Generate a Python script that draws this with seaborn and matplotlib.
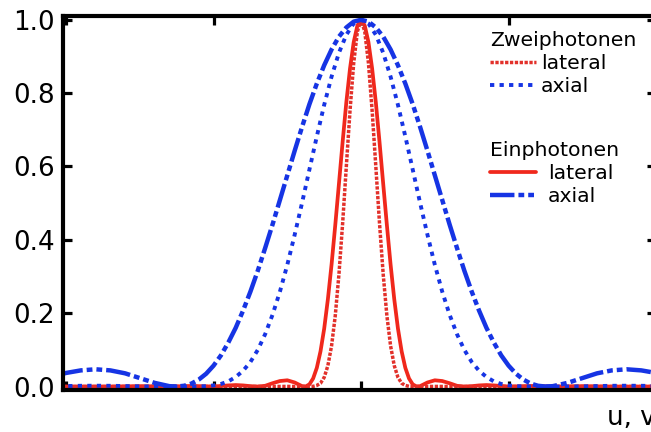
import matplotlib
matplotlib.use("Agg")
import matplotlib.pyplot as plt
from matplotlib.lines import Line2D
import pandas as pd
import seaborn as sns

# Lateral coordinate v and normalised intensities
lat_v = [-20.5, -17, -15, -13, -11.5, -10, -9, -8.5, -8, -7.5, -7, -6.5, -6, -5.5, -5, -4.5,
         -4, -3.75, -3.5, -3.25, -3, -2.75, -2.5, -2.25, -2, -1.75, -1.5, -1.25, -1, -0.75,
         -0.5, -0.25, 0, 0.25, 0.5, 0.75, 1, 1.25, 1.5, 1.75, 2, 2.25, 2.5, 2.75, 3, 3.25,
         3.5, 3.75, 4, 4.5, 5, 5.5, 6, 6.5, 7, 7.5, 8, 8.5, 9, 10, 11.5, 13, 15, 17, 20.5]
ein_lateral = [0.0, 0.0, 0.001, 0.0, 0.0015, 0.0, 0.003, 0.004, 0.003, 0.001, 0.0, 0.002,
               0.009, 0.015, 0.017, 0.011, 0.001, 0.0003, 0.006, 0.022, 0.051, 0.096, 0.158,
               0.238, 0.333, 0.440, 0.553, 0.667, 0.775, 0.867, 0.939, 0.984, 1.0,
               0.984, 0.939, 0.867, 0.775, 0.667, 0.553, 0.440, 0.333, 0.238, 0.158, 0.096,
               0.051, 0.022, 0.006, 0.0003, 0.001, 0.011, 0.017, 0.015, 0.009, 0.002, 0.0,
               0.001, 0.003, 0.004, 0.003, 0.0, 0.0015, 0.0, 0.001, 0.0, 0.0]
zwei_lateral = [0.0, 0.0, 0.0, 0.0, 0.0, 0.0, 0.0, 0.0, 0.0, 0.0, 0.0, 0.0,
                0.0001, 0.0002, 0.0003, 0.0001, 0.0, 0.0, 0.0, 0.0005, 0.003, 0.009, 0.025,
                0.057, 0.111, 0.193, 0.306, 0.445, 0.600, 0.752, 0.882, 0.968, 1.0,
                0.968, 0.882, 0.752, 0.600, 0.445, 0.306, 0.193, 0.111, 0.057, 0.025, 0.009,
                0.003, 0.0005, 0.0, 0.0, 0.0, 0.0001, 0.0003, 0.0002, 0.0001, 0.0, 0.0,
                0.0, 0.0, 0.0, 0.0, 0.0, 0.0, 0.0, 0.0, 0.0, 0.0]

# Axial coordinate u and normalised intensities
ax_u = [-20.5, -20, -19, -18, -17, -16, -15, -14, -13, -12.5, -12, -11.5, -11, -10.5, -10,
        -9.5, -9, -8.5, -8, -7.5, -7, -6.5, -6, -5.5, -5, -4.5, -4, -3.5, -3, -2.5, -2,
        -1.5, -1, -0.5, 0, 0.5, 1, 1.5, 2, 2.5, 3, 3.5, 4, 4.5, 5, 5.5, 6, 6.5, 7, 7.5,
        8, 8.5, 9, 9.5, 10, 10.5, 11, 11.5, 12, 12.5, 13, 14, 15, 16, 17, 18, 19, 20, 20.5]
ein_axial = [0.032, 0.037, 0.044, 0.047, 0.044, 0.036, 0.023, 0.010, 0.001, 0.0, 0.002,
             0.008, 0.019, 0.035, 0.057, 0.085, 0.120, 0.160, 0.207, 0.259, 0.316, 0.378,
             0.442, 0.509, 0.576, 0.643, 0.708, 0.770, 0.826, 0.876, 0.919, 0.954, 0.979,
             0.995, 1.0, 0.995, 0.979, 0.954, 0.919, 0.876, 0.826, 0.770, 0.708, 0.643,
             0.576, 0.509, 0.442, 0.378, 0.316, 0.259, 0.207, 0.160, 0.120, 0.085, 0.057,
             0.035, 0.019, 0.008, 0.002, 0.0, 0.001, 0.010, 0.023, 0.036, 0.044, 0.047,
             0.044, 0.037, 0.032]
zwei_axial = [0.001, 0.0014, 0.002, 0.0022, 0.002, 0.0013, 0.0005, 0.0001, 0.0, 0.0, 0.0,
              0.0001, 0.0004, 0.001, 0.003, 0.007, 0.014, 0.026, 0.043, 0.067, 0.100, 0.143,
              0.196, 0.259, 0.332, 0.414, 0.501, 0.592, 0.682, 0.768, 0.845, 0.910, 0.959,
              0.990, 1.0, 0.990, 0.959, 0.910, 0.845, 0.768, 0.682, 0.592, 0.501, 0.414,
              0.332, 0.259, 0.196, 0.143, 0.100, 0.067, 0.043, 0.026, 0.014, 0.007, 0.003,
              0.001, 0.0004, 0.0001, 0.0, 0.0, 0.0, 0.0001, 0.0005, 0.0013, 0.002, 0.0022,
              0.002, 0.0014, 0.001]

y_ticks = [0.0, 0.2, 0.4, 0.6, 0.8, 1.0]
y_ticklabels = ["0.0", "0.2", "0.4", "0.6", "0.8", "1.0"]
x_ticks = [-20, -10, 0, 10, 20]

RED = "#f0281c"
RED_DOT = "#e2302a"
BLUE = "#1634e4"

sns.set_style("ticks")
plt.rcParams["font.family"] = ["DejaVu Sans"]
for key in ("text.color", "axes.labelcolor", "xtick.color", "ytick.color"):
    plt.rcParams[key] = "black"

fig = plt.figure(figsize=(6.51, 4.32), dpi=100)
ax = fig.add_axes([0.0965, 0.0972, 0.9113, 0.8665])

styles = {
    "ein_lat": dict(color=RED, lw=2.7, linestyle="-"),
    "zwei_lat": dict(color=RED_DOT, lw=2.5, linestyle=(0, (0.95, 0.45))),
    "zwei_ax": dict(color=BLUE, lw=2.8, linestyle=(0, (1.1, 1.35))),
    "ein_ax": dict(color=BLUE, lw=3.2, linestyle=(0, (5.5, 0.9, 1.3, 0.9, 1.3, 0.9))),
}

series = [
    ("ein_lat", lat_v, ein_lateral),
    ("zwei_lat", lat_v, zwei_lateral),
    ("zwei_ax", ax_u, zwei_axial),
    ("ein_ax", ax_u, ein_axial),
]
for key, xs, ys in series:
    df = pd.DataFrame({"pos": xs, "val": ys})
    sns.lineplot(data=df, x="pos", y="val", ax=ax, estimator=None, sort=False,
                 legend=False, solid_capstyle="butt", dash_capstyle="butt", **styles[key])

ax.set_xlim(-20.22, 20.0)
ax.set_ylim(-0.0095, 1.0112)
ax.set_xticks(x_ticks)
ax.set_xticklabels([])
ax.set_yticks(y_ticks)
ax.set_yticklabels(y_ticklabels)
ax.tick_params(axis="both", direction="in", top=True, right=True, length=6.5, width=2.3,
               color="black")
ax.tick_params(axis="y", labelsize=18.8, pad=6, labelcolor="black")
for sp in ax.spines.values():
    sp.set_linewidth(3.0)
    sp.set_color("black")
    sp.set_visible(True)

ax.set_xlabel("u, v", loc="right", fontsize=18.8, labelpad=7.5, color="black")
ax.set_ylabel("")

fs = 14.7
h_zwei = [Line2D([], [], **styles["zwei_lat"]), Line2D([], [], **styles["zwei_ax"])]
leg1 = ax.legend(h_zwei, ["lateral", "axial"], title="Zweiphotonen", loc="upper left",
                 bbox_to_anchor=(490 / 651, 1 - 31 / 432), bbox_transform=fig.transFigure,
                 frameon=False, alignment="left", fontsize=fs, title_fontsize=fs,
                 handlelength=2.25, handletextpad=0.25, labelspacing=0.2,
                 borderpad=0, borderaxespad=0, labelcolor="black")
leg1.get_title().set_color("black")
ax.add_artist(leg1)
h_ein = [Line2D([], [], **styles["ein_lat"]), Line2D([], [], **styles["ein_ax"])]
leg2 = ax.legend(h_ein, ["lateral", "axial"], title="Einphotonen", loc="upper left",
                 bbox_to_anchor=(490 / 651, 1 - 141 / 432), bbox_transform=fig.transFigure,
                 frameon=False, alignment="left", fontsize=fs, title_fontsize=fs,
                 handlelength=2.25, handletextpad=0.6, labelspacing=0.2,
                 borderpad=0, borderaxespad=0, labelcolor="black")
leg2.get_title().set_color("black")

fig.savefig("out.png", dpi=100)
